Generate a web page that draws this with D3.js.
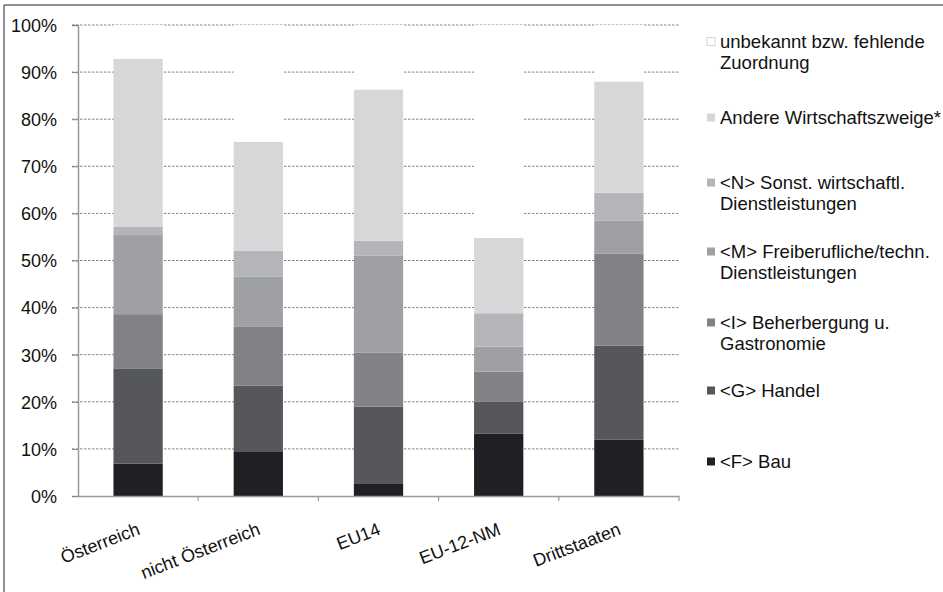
<!DOCTYPE html>
<html><head><meta charset="utf-8">
<script src="https://cdn.jsdelivr.net/npm/d3@7"></script>
<style>body{margin:0;background:#fff}svg{display:block}text{font-family:"Liberation Sans",Arial,sans-serif}</style>
</head><body><svg id="c" width="943" height="592"></svg>
<script>
const categories = ["Österreich","nicht Österreich","EU14","EU-12-NM","Drittstaaten"];
const seriesNames = ["<F> Bau","<G> Handel","<I> Beherbergung u. Gastronomie","<M> Freiberufliche/techn. Dienstleistungen","<N> Sonst. wirtschaftl. Dienstleistungen","Andere Wirtschaftszweige*","unbekannt bzw. fehlende Zuordnung"];
const legendLines = [["<F> Bau"],["<G> Handel"],["<I> Beherbergung u.","Gastronomie"],["<M> Freiberufliche/techn.","Dienstleistungen"],["<N> Sonst. wirtschaftl.","Dienstleistungen"],["Andere Wirtschaftszweige*"],["unbekannt bzw. fehlende","Zuordnung"]];
const bau          = [6.9, 9.5, 2.7, 13.2, 12.0];
const handel       = [20.2, 13.9, 16.3, 6.8, 19.9];
const beherbergung = [11.5, 12.5, 11.4, 6.4, 19.6];
const freiberuf    = [16.8, 10.7, 20.6, 5.3, 7.0];
const sonst        = [1.8, 5.5, 3.2, 7.1, 5.9];
const andere       = [35.6, 23.1, 32.1, 16.0, 23.6];
const unbekannt    = [7.2, 24.8, 13.7, 45.2, 12.0];
const yTicks = [0,10,20,30,40,50,60,70,80,90,100];

const seriesValues = [bau, handel, beherbergung, freiberuf, sonst, andere, unbekannt];
const colors = ["#1e2024","#55575a","#808285","#9ea0a3","#b3b5b8","#d5d7d9","#ffffff"];

const svg = d3.select("#c");
// frame
svg.append("line").attr("x1",4).attr("x2",943).attr("y1",5).attr("y2",5).attr("stroke","#6a6a6a").attr("stroke-width",1.5);
svg.append("line").attr("x1",4).attr("x2",4).attr("y1",5).attr("y2",592).attr("stroke","#6a6a6a").attr("stroke-width",1.5);

const L=78, R=679, T=25, B=496;
const x = d3.scaleBand().domain(categories).range([L,R]).paddingInner(0.59).paddingOuter(0.295);
const xb = d3.scaleBand().domain(categories).range([L,R]);
const y = d3.scaleLinear().domain([0,100]).range([B,T]);

// gridlines
svg.append("g").selectAll("line").data(yTicks.filter(d=>d>0)).join("line")
  .attr("x1",L-6).attr("x2",R).attr("y1",d=>y(d)).attr("y2",d=>y(d))
  .attr("stroke","#9c7a6a").attr("stroke-width",1).attr("stroke-dasharray","2.5,1.5");

// stacked data
const rows = categories.map((c,i)=>{const o={cat:c}; seriesNames.forEach((s,j)=>o[s]=seriesValues[j][i]); return o;});
const stack = d3.stack().keys(seriesNames)(rows);
svg.append("g").selectAll("g").data(stack).join("g").attr("fill",(d,i)=>colors[i])
  .selectAll("rect").data(d=>d).join("rect")
  .attr("x",d=>x(d.data.cat)).attr("width",x.bandwidth())
  .attr("y",d=>y(d[1])).attr("height",d=>y(d[0])-y(d[1]));

// y axis
const ya = svg.append("g").attr("transform",`translate(${L},0)`)
  .call(d3.axisLeft(y).tickValues(yTicks).tickFormat(d=>d+"%").tickSize(6).tickPadding(15));
ya.select(".domain").attr("stroke","#a09890").attr("stroke-width",1.5);
ya.selectAll(".tick line").attr("stroke","#9c7a6a");
ya.selectAll("text").attr("font-size",18).attr("fill","#111").attr("dy","0.35em");

// x axis
const xa = svg.append("g").attr("transform",`translate(0,${B})`)
  .call(d3.axisBottom(xb).tickSize(0).tickFormat(""));
xa.select(".domain").attr("stroke","#a09890").attr("stroke-width",1.5);
const bounds = categories.map(c=>xb(c)).concat([R]).slice(1);
xa.append("g").selectAll("line").data(bounds).join("line")
  .attr("x1",d=>d).attr("x2",d=>d).attr("y1",0).attr("y2",5).attr("stroke","#a09890").attr("stroke-width",1.2);

svg.append("g").selectAll("text").data(categories).join("text")
  .attr("transform",d=>`translate(${xb(d)+xb.bandwidth()/2+3},${B+38}) rotate(-21)`)
  .attr("text-anchor","end").attr("font-size",18).attr("fill","#111").text(d=>d);

// legend
const legendY = [462,391,323,252,183,118,42];
const lg = svg.append("g");
seriesNames.forEach((s,i)=>{
  const g = lg.append("g").attr("transform",`translate(707,${legendY[i]})`);
  g.append("rect").attr("x",0).attr("y",-4.5).attr("width",8).attr("height",8)
    .attr("fill",colors[i]).attr("stroke",i===6?"#c8c8c8":"none").attr("stroke-width",0.8);
  const t = g.append("text").attr("x",13).attr("y",0).attr("font-size",18.5).attr("fill","#111");
  legendLines[i].forEach((ln,k)=>t.append("tspan").attr("x",13).attr("dy",k===0?"0.35em":"21px").text(ln));
});
</script></body></html>
